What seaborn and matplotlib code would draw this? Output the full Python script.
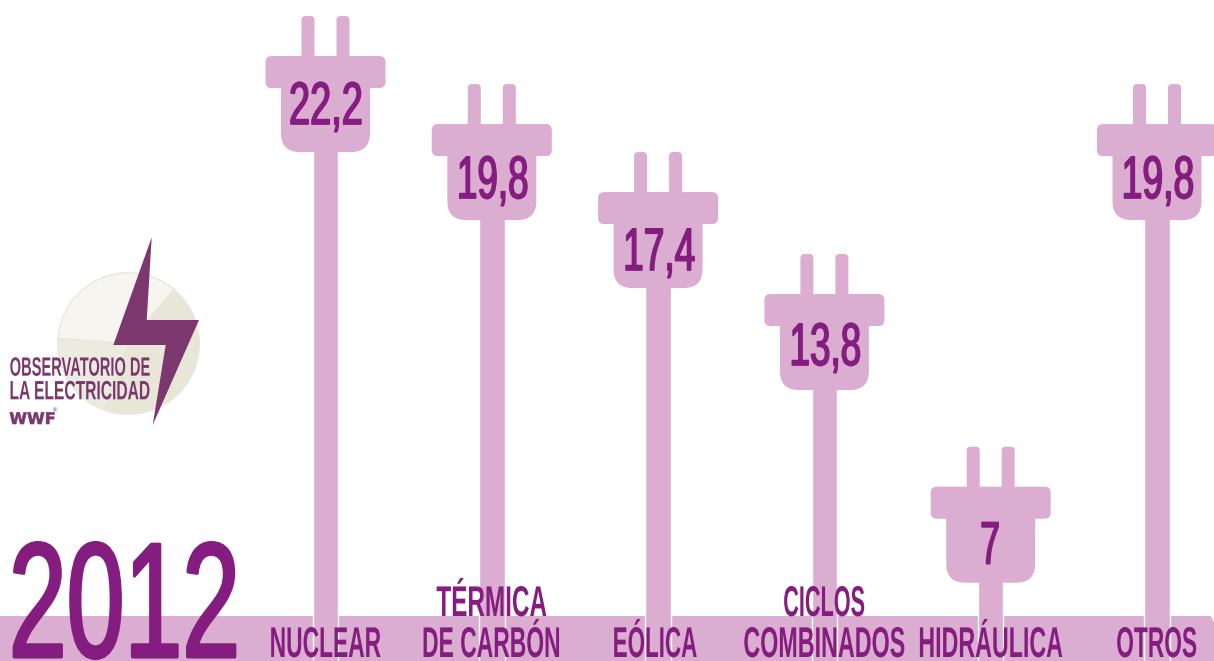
import matplotlib
matplotlib.use("Agg")
import numpy as np
import pandas as pd
import seaborn as sns
import matplotlib.pyplot as plt
from matplotlib.path import Path
from matplotlib.patches import PathPatch, Polygon
from matplotlib.patheffects import AbstractPathEffect
from matplotlib.text import Text
from matplotlib.transforms import (Affine2D, Bbox, ScaledTranslation, IdentityTransform,
                                   blended_transform_factory)

# ---- data ----
categories = ["NUCLEAR", "TÉRMICA\nDE CARBÓN", "EÓLICA", "CICLOS\nCOMBINADOS", "HIDRÁULICA", "OTROS"]
values = [22.2, 19.8, 17.4, 13.8, 7, 19.8]
year = "2012"
logo_lines = ["OBSERVATORIO DE", "LA ELECTRICIDAD"]
logo_pie_shares = [126, 74, 160]

# ---- style ----
PLUG = "#DBADD0"
INK = "#851C80"
LOGO = "#7C376F"
PIE_COLORS = ["#F6F5F0", "#ECEBDF", "#E7E6D7"]
NARROW = ["Liberation Sans Narrow", "Liberation Sans", "DejaVu Sans"]
value_widths = [72, 70, 71, 70, 18, 71]
value_drops = [68, 74, 78, 71, 77, 74]
value_nudges = [1, 1.5, 1.5, 1.5, 0, 1.5]
label_widths = {"NUCLEAR": 111, "TÉRMICA": 110, "DE CARBÓN": 137, "EÓLICA": 84,
                "CICLOS": 81, "COMBINADOS": 161, "HIDRÁULICA": 144, "OTROS": 80}
label_nudges = {"EÓLICA": -3}

W, H, DPI = 1214, 661, 100
PX = 72 / DPI


class Squeeze(AbstractPathEffect):
    """Narrow a text line about its centre so its ink has a given pixel width."""

    def __init__(self, target, stroke=0.0):
        super().__init__()
        self.target = target
        self.stroke = stroke

    def draw_path(self, renderer, gc, tpath, affine, rgbFace=None):
        v = tpath.vertices
        lo, hi = v[:, 0].min(), v[:, 0].max()
        scale_now = abs(affine.get_matrix()[0, 0]) * (hi - lo)
        sx = self.target / scale_now if scale_now else 1
        c = (lo + hi) / 2
        squeezed = Affine2D().translate(-c, 0).scale(sx, 1).translate(c, 0) + affine
        gc0 = renderer.new_gc()
        gc0.copy_properties(gc)
        if self.stroke:
            gc0.set_linewidth(self.stroke * PX)
            gc0.set_foreground(rgbFace)
        renderer.draw_path(gc0, tpath, squeezed, rgbFace)
        gc0.restore()


class NarrowText(Text):
    """Capitals-only text whose reported extent is the squeezed ink it draws."""

    def __init__(self, x, y, s, width, stroke=0.0, **kw):
        super().__init__(x, y, s, **kw)
        self.ink_width = width
        self.set_path_effects([Squeeze(width, stroke)])

    def get_window_extent(self, renderer=None, dpi=None):
        bb = super().get_window_extent(renderer, dpi)
        cx = (bb.x0 + bb.x1) / 2
        size_px = self.get_fontsize() / PX
        return Bbox([[cx - self.ink_width / 2, bb.y0 + 0.2 * size_px],
                     [cx + self.ink_width / 2, bb.y1 - 0.1 * size_px]])


def rounded(points, radii):
    """Closed path through points with rounded corners of the given radii."""
    pts = np.asarray(points, float)
    n = len(pts)
    verts, codes = [], []
    for k in range(n):
        p, a, b = pts[k], pts[k - 1], pts[(k + 1) % n]
        r = radii[k]
        u = (a - p) / np.linalg.norm(a - p)
        w = (b - p) / np.linalg.norm(b - p)
        start, end = p + u * r, p + w * r
        verts.append(start)
        codes.append(Path.MOVETO if k == 0 else Path.LINETO)
        if r > 0:
            verts += [p, end]
            codes += [Path.CURVE3, Path.CURVE3]
    verts.append(verts[0])
    codes.append(Path.CLOSEPOLY)
    return Path(verts, codes)


sns.set_theme(style="white")
fig = plt.figure(figsize=(W / DPI, H / DPI), dpi=DPI, facecolor="white")
ax = fig.add_axes([0, 0, 1, 1])

df = pd.DataFrame({"fuente": categories, "valor": values})
sns.barplot(data=df, x="fuente", y="valor", color=PLUG, saturation=1, width=25.5 / 166.3, ax=ax, zorder=2)

step, zero_y, unit = 166.3, 685.0, 28.33
first_x = 325.5
ax.set_xlim(-first_x / step, (W - first_x) / step)
ax.set_ylim((zero_y - H) / unit, zero_y / unit)
ax.axis("off")

# base strip
ax.axhspan((zero_y - H) / unit, (zero_y - 615.5) / unit, color=PLUG, lw=0, zorder=1)

# plug heads, drawn in pixels around the top of every bar
head_parts = [
    rounded([(-24, -3), (-24, 40), (-11, 40), (-11, -3)], [0, 4, 4, 0]),
    rounded([(11, -3), (11, 40), (24, 40), (24, -3)], [0, 4, 4, 0]),
    rounded([(-60, 0), (60, 0), (60, -32), (-60, -32)], [6, 6, 6, 6]),
    rounded([(-44.5, -28), (44.5, -28), (44.5, -96), (-44.5, -96)], [0, 0, 19, 19]),
]
for i, v in enumerate(values):
    anchor = ScaledTranslation(i, v, ax.transData)
    for part in head_parts:
        ax.add_patch(PathPatch(part, facecolor=PLUG, edgecolor="none", transform=IdentityTransform() + anchor, zorder=3))
    label = f"{v:g}".replace(".", ",")
    ax.add_artist(NarrowText(value_nudges[i], -value_drops[i], label, value_widths[i], stroke=1.6,
                             transform=IdentityTransform() + anchor, ha="center", va="baseline",
                             color=INK, fontsize=60 * PX, family=NARROW, fontweight="regular",
                             zorder=5, clip_on=False))

# category labels, baselines counted from the foot of the figure
label_tf = blended_transform_factory(ax.transData, IdentityTransform())
for i, cat in enumerate(categories):
    for row, line in enumerate(reversed(cat.split("\n"))):
        ax.add_artist(NarrowText(i + label_nudges.get(line, 0) / step, H - 657 + 41 * row, line,
                                 label_widths[line], transform=label_tf, ha="center", va="baseline",
                                 color=INK, fontsize=43 * PX, family=NARROW, fontweight="bold",
                                 zorder=5, clip_on=False))

# overlay in pixel coordinates for the decorations
over = fig.add_axes([0, 0, 1, 1], facecolor="none")
over.set_xlim(0, W)
over.set_ylim(H, 0)
over.axis("off")
over.add_patch(Polygon([(1210, 615), (1214, 615), (1214, 622)], closed=True, facecolor="white", edgecolor="none"))

over.add_artist(NarrowText(126, 657, year, 226, stroke=3, transform=over.transData, ha="center", va="baseline",
                           color=INK, fontsize=164 * PX, family=NARROW, fontweight="regular",
                           zorder=6, clip_on=False))

# logo
pie_ax = fig.add_axes([57 / W, (H - 415) / H, 143 / W, 143 / H], facecolor="none")
pie_ax.pie(logo_pie_shares, colors=PIE_COLORS, startangle=50, counterclock=True, radius=1,
           wedgeprops=dict(edgecolor="#E8E7E0", linewidth=1))
pie_ax.set_xlim(-1.01, 1.01)
pie_ax.set_ylim(-1.01, 1.01)

top = fig.add_axes([0, 0, 1, 1], facecolor="none")
top.set_xlim(0, W)
top.set_ylim(H, 0)
top.axis("off")
top.add_patch(Polygon([(151.7, 237.3), (113.3, 345), (165.7, 345), (152.7, 425), (199, 320), (146.7, 320)],
                      closed=True, facecolor=LOGO, edgecolor="none"))
for line, base in zip(logo_lines, (375.7, 399.3)):
    top.add_artist(NarrowText(80, base, line, 140, transform=top.transData, ha="center", va="baseline",
                              color=LOGO, fontsize=26.5 * PX, family=NARROW, fontweight="bold", clip_on=False))
top.add_artist(NarrowText(32.5, 424, "WWF", 45, stroke=0.6, transform=top.transData, ha="center", va="baseline",
                          color=LOGO, fontsize=16 * PX, family="DejaVu Sans", fontweight="bold", clip_on=False))
top.text(51, 412, "®", ha="left", va="baseline", color=LOGO, fontsize=6 * PX, family="DejaVu Sans")

fig.savefig("out.png", dpi=DPI, facecolor="white")
